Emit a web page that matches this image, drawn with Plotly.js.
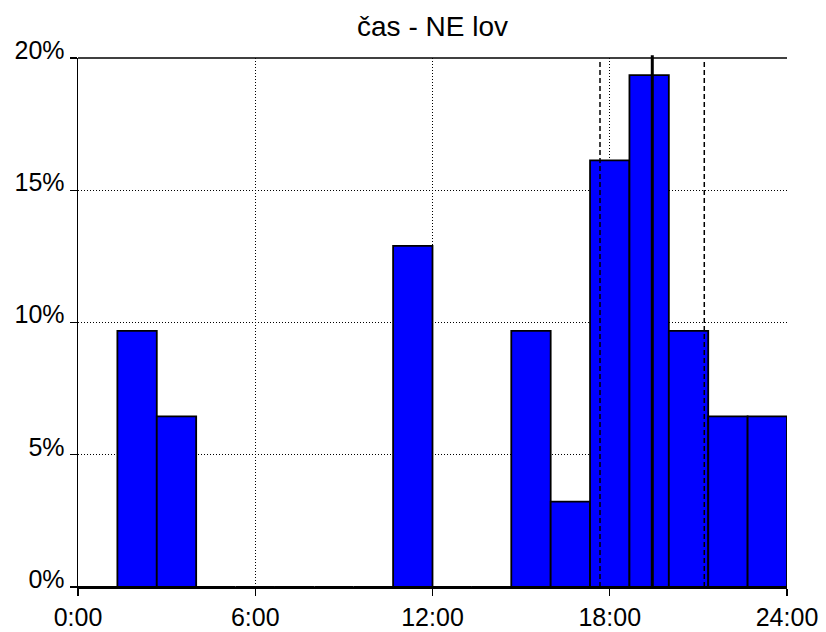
<!DOCTYPE html>
<html>
<head>
<meta charset="utf-8">
<script src="https://cdn.plot.ly/plotly-3.0.1.min.js"></script>
<style>html,body{margin:0;padding:0;background:#fff;}#chart{width:826px;height:632px;}</style>
</head>
<body>
<div id="chart"></div>
<script>
// Histogram bins (start hour of each 80-minute bin) and share of records (%)
const binStart = [0, 1.3333, 2.6667, 4, 5.3333, 6.6667, 8, 9.3333, 10.6667, 12, 13.3333, 14.6667, 16, 17.3333, 18.6667, 20, 21.3333, 22.6667];
const percent  = [0, 9.68, 6.45, 0, 0, 0, 0, 0, 12.90, 0, 0, 9.68, 3.23, 16.13, 19.35, 9.68, 6.45, 6.45];
// Quartile markers (hours): lower quartile, median, upper quartile
const quartileHours = [17.67, 19.44, 21.2];
const quartileKind  = ['dash', 'solid', 'dash'];
// Axis ticks
const xTickVals = [0, 6, 12, 18, 24];
const xTickText = ['0:00', '6:00', '12:00', '18:00', '24:00'];
const yTickVals = [0, 5, 10, 15, 20];
const yTickText = ['0%', '5%', '10%', '15%', '20%'];
const titleText = 'čas - NE lov';

const BIN_W = 4 / 3;
const FONT = 'Liberation Sans, Arial, sans-serif';

const trace = {
  type: 'bar',
  x: binStart,
  y: percent,
  width: binStart.map(() => BIN_W),
  offset: 0,
  marker: {color: '#0000FF', line: {color: '#000000', width: 1.8}},
  hoverinfo: 'x+y'
};

const shapes = quartileHours.map((h, i) => ({
  type: 'line', layer: 'above',
  xref: 'x', yref: 'paper',
  x0: h, x1: h,
  y0: 0, y1: quartileKind[i] === 'solid' ? 1.005 : 0.995,
  line: {color: '#000', width: quartileKind[i] === 'solid' ? 3 : 1.5, dash: quartileKind[i] === 'solid' ? 'solid' : '5px,3px'}
}));
shapes.push({
  type: 'line', layer: 'above', xref: 'paper', yref: 'paper',
  x0: 0, x1: 1, y0: 1, y1: 1,
  line: {color: '#000', width: 1.3}
});

const layout = {
  width: 826, height: 632,
  margin: {l: 78, r: 39, t: 58, b: 45, pad: 0},
  paper_bgcolor: '#fff', plot_bgcolor: '#fff',
  showlegend: false,
  bargap: 0,
  font: {family: FONT, color: '#000'},
  title: {
    text: titleText,
    font: {family: FONT, size: 28, color: '#000'},
    x: 0.5, xref: 'paper', xanchor: 'center',
    y: 1 - 26 / 632, yref: 'container', yanchor: 'middle'
  },
  xaxis: {
    range: [0, 24], fixedrange: true,
    tickmode: 'array', tickvals: xTickVals, ticktext: xTickText,
    ticks: 'outside', ticklen: 7, tickwidth: 1.3, tickcolor: '#000',
    tickfont: {family: FONT, size: 25, color: '#000'},
    showline: true, linecolor: '#000', linewidth: 2.4,
    showgrid: true, gridcolor: '#000', gridwidth: 1, griddash: '1px,2px',
    zeroline: false
  },
  yaxis: {
    range: [0, 20], fixedrange: true,
    tickmode: 'array', tickvals: yTickVals, ticktext: yTickText,
    ticks: 'outside', ticklen: 7, tickwidth: 1.3, tickcolor: '#000',
    tickfont: {family: FONT, size: 25, color: '#000'},
    ticklabelshift: -8,
    showline: true, linecolor: '#000', linewidth: 1.4,
    showgrid: true, gridcolor: '#000', gridwidth: 1, griddash: '1px,2px',
    zeroline: false
  },
  shapes: shapes
};

Plotly.newPlot('chart', [trace], layout, {displayModeBar: false, staticPlot: true});
</script>
</body>
</html>
